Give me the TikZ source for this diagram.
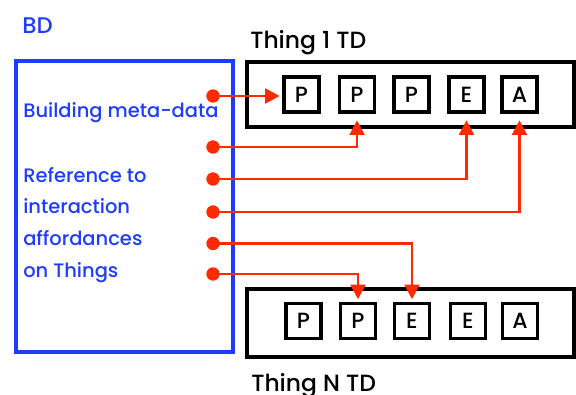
\documentclass[tikz,border=0pt]{standalone}
\usepackage{fontspec}
\setmainfont{Poppins Medium}
\usetikzlibrary{arrows.meta}
\definecolor{bdblue}{RGB}{30,60,255}
\definecolor{lred}{RGB}{255,42,0}
\tikzset{
  bdtext/.style={anchor=base west, inner sep=0pt, text=bdblue, font=\fontsize{14.6}{18}\selectfont},
  tdtext/.style={anchor=base west, inner sep=0pt, text=black, font=\fontsize{17.6}{21}\selectfont},
  tdbox/.style={draw=black, line width=3pt, fill=white},
  ibox/.style={draw=black, line width=2.6pt, minimum size=26pt, inner sep=0pt, font=\fontsize{16.5}{18}\selectfont},
  bdbox/.style={draw=bdblue, line width=3pt},
  dot/.style={circle, fill=lred, minimum size=10pt, inner sep=0pt},
  link/.style={draw=lred, line width=2.2pt, -{Triangle[length=11pt,width=11pt]}},
}
\begin{document}
\begin{tikzpicture}[x=0.75pt, y=-0.75pt]
\useasboundingbox (0,0) rectangle (576,394);
% BD
\node[bdtext, font=\fontsize{17}{20}\selectfont] (bdlabel) at (22,33) {BD};
\node[bdbox, minimum width=163pt, minimum height=218pt, inner sep=0pt] (bd) at (124.25,206.75) {};
\node[bdtext] (l1) at (23,117) {Building meta-data};
\node[bdtext] (l2) at (23,182) {Reference to};
\node[bdtext] (l3) at (23,213.5) {interaction};
\node[bdtext] (l4) at (23,245) {affordances};
\node[bdtext] (l5) at (23,277) {on Things};
% Thing 1
\node[tdtext] (t1label) at (250,48) {Thing 1 TD};
\node[tdbox, minimum width=244.9pt, minimum height=49pt, inner sep=0pt] (t1) at (410.75,94.25) {};
\node[ibox] (a1) at (301.5,94.5) {P};
\node[ibox] (a2) at (357,94.5) {P};
\node[ibox] (a3) at (411.5,94.5) {P};
\node[ibox] (a4) at (466.5,94.5) {E};
\node[ibox] (a5) at (519.5,94.5) {A};
% Thing N
\node[tdtext] (tnlabel) at (251,391) {Thing N TD};
\node[tdbox, minimum width=244.9pt, minimum height=51pt, inner sep=0pt] (tn) at (410.75,323) {};
\node[ibox] (b1) at (303.5,321) {P};
\node[ibox] (b2) at (358,321) {P};
\node[ibox] (b3) at (412,321) {E};
\node[ibox] (b4) at (468,321) {E};
\node[ibox] (b5) at (520,321) {A};
% dots
\node[dot] (d1) at (213,96) {};
\node[dot] (d2) at (213,147) {};
\node[dot] (d3) at (213,179) {};
\node[dot] (d4) at (213,212) {};
\node[dot] (d5) at (213,243.5) {};
\node[dot] (d6) at (213,274) {};
% connectors
\draw[link, shorten >=2pt] (d1.center) -- (a1.west |- d1.center);
\draw[link, shorten >=5pt] (d2.center) -| (a2.south);
\draw[link, shorten >=5pt] (d3.center) -| (a4.south);
\draw[link, shorten >=5pt] (d4.center) -| (a5.south);
\draw[link, shorten >=2pt] (d5.center) -| (b3.north);
\draw[link, shorten >=2pt] (d6.center) -| (b2.north);
\end{tikzpicture}
\end{document}
